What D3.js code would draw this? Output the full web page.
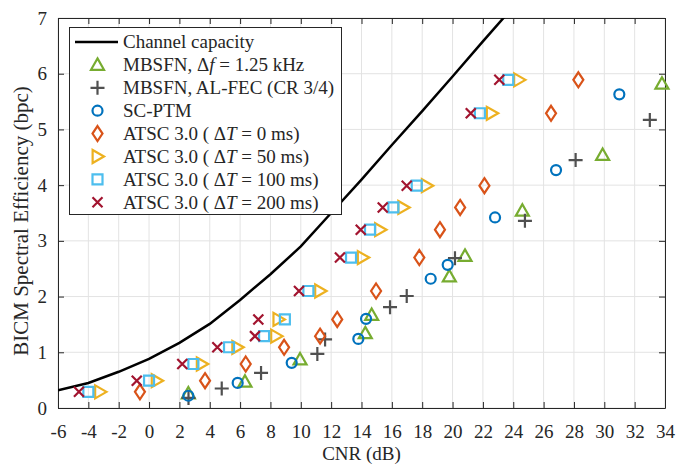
<!DOCTYPE html>
<html><head><meta charset="utf-8">
<script src="https://cdn.jsdelivr.net/npm/d3@7"></script>
<style>
body{margin:0;background:#fff;}
svg text{font-family:"Liberation Serif","Times New Roman",serif !important;fill:#262626;}
</style></head><body>
<svg id="chart" width="691" height="464"></svg>
<script>
// ---- data ----
const xTickValues = d3.range(-6, 35, 2);
const yTickValues = [0,1,2,3,4,5,6,7];

const capacityX = [-6,-4,-2,0,2,4,6,8,10,12,14,16,18,20,22,24];
const capacityY = [0.32,0.45,0.65,0.88,1.17,1.51,1.94,2.40,2.90,3.50,4.10,4.72,5.33,5.95,6.58,7.20];

const mbsfnX = [2.59,6.32,9.95,14.25,14.67,19.79,20.82,24.6,29.89,33.8];
const mbsfnY = [0.26,0.47,0.87,1.34,1.67,2.36,2.73,3.54,4.54,5.82];

const alfecX = [2.6,4.79,7.38,11.09,11.6,15.88,16.98,20.16,24.77,28.11,33.0];
const alfecY = [0.18,0.35,0.63,0.97,1.23,1.81,2.01,2.69,3.36,4.45,5.17];

const scptmX = [2.59,5.84,9.4,13.79,14.3,18.56,19.68,22.8,26.82,30.99];
const scptmY = [0.22,0.45,0.81,1.24,1.6,2.32,2.57,3.42,4.27,5.63];

const atsc0X = [-0.6,3.69,6.37,8.9,11.27,12.4,14.96,17.81,19.17,20.5,22.1,26.49,28.29];
const atsc0Y = [0.29,0.49,0.79,1.09,1.29,1.59,2.1,2.7,3.2,3.6,3.99,5.29,5.89];

const atsc50X = [-3.23,0.5,3.47,5.81,8.37,8.52,11.27,14.08,15.22,16.75,18.3,22.58,24.38];
const atsc50Y = [0.29,0.49,0.79,1.09,1.29,1.59,2.1,2.7,3.2,3.6,3.99,5.29,5.89];

const atsc100X = [-4.0,0.0,2.92,5.27,7.58,8.95,10.5,13.31,14.56,16.1,17.64,21.8,23.67];
const atsc100Y = [0.29,0.49,0.79,1.09,1.29,1.59,2.1,2.7,3.2,3.6,3.99,5.29,5.89];

const atsc200X = [-4.62,-0.81,2.19,4.5,6.98,7.2,9.88,12.58,13.95,15.4,16.98,21.2,23.08];
const atsc200Y = [0.29,0.49,0.79,1.09,1.29,1.59,2.1,2.7,3.2,3.6,3.99,5.29,5.89];

const legendLabels = ["Channel capacity","MBSFN, \u0394f = 1.25 kHz","MBSFN, AL-FEC (CR 3/4)","SC-PTM",
  "ATSC 3.0 ( \u0394T = 0 ms)","ATSC 3.0 ( \u0394T = 50 ms)","ATSC 3.0 ( \u0394T = 100 ms)","ATSC 3.0 ( \u0394T = 200 ms)"];

// ---- layout ----
const svg = d3.select("#chart");
const L = 58, R = 665, T = 18, B = 408;
const x = d3.scaleLinear().domain([-6,34]).range([L,R]);
const y = d3.scaleLinear().domain([0,7]).range([B,T]);

// grid
const g = svg.append("g");
g.selectAll(".gx").data(xTickValues).join("line")
  .attr("x1",d=>x(d)).attr("x2",d=>x(d)).attr("y1",T).attr("y2",B)
  .attr("stroke","#e3e3e3").attr("stroke-width",1);
g.selectAll(".gy").data(yTickValues).join("line")
  .attr("y1",d=>y(d)).attr("y2",d=>y(d)).attr("x1",L).attr("x2",R)
  .attr("stroke","#e3e3e3").attr("stroke-width",1);

// axes
const fs = 19;
const fmt = d => String(d);
const ax = svg.append("g").attr("transform",`translate(0,${B})`)
  .call(d3.axisBottom(x).tickValues(xTickValues).tickFormat(fmt).tickSizeInner(-6).tickSizeOuter(0).tickPadding(17));
const ay = svg.append("g").attr("transform",`translate(${L},0)`)
  .call(d3.axisLeft(y).tickValues(yTickValues).tickFormat(fmt).tickSizeInner(-6).tickSizeOuter(0).tickPadding(11));
const axT = svg.append("g").attr("transform",`translate(0,${T})`)
  .call(d3.axisTop(x).tickValues(xTickValues).tickSizeInner(-6).tickSizeOuter(0).tickFormat(""));
const ayR = svg.append("g").attr("transform",`translate(${R},0)`)
  .call(d3.axisRight(y).tickValues(yTickValues).tickSizeInner(-6).tickSizeOuter(0).tickFormat(""));
[ax,ay,axT,ayR].forEach(a=>{
  a.attr("font-family",null).attr("font-size",null);
  a.select(".domain").attr("stroke","#262626").attr("stroke-width",1);
  a.selectAll(".tick line").attr("stroke","#262626").attr("stroke-width",1);
  a.selectAll("text").attr("font-size",fs).attr("fill","#262626");
});

// axis labels
svg.append("text").attr("x",(L+R)/2).attr("y",460).attr("text-anchor","middle")
  .attr("font-size",19).text("CNR (dB)");
svg.append("text").attr("transform",`translate(28,${(T+B)/2+8}) rotate(-90)`).attr("text-anchor","middle")
  .attr("font-size",21).text("BICM Spectral Efficiency (bpc)");

// clip
svg.append("clipPath").attr("id","clip").append("rect").attr("x",L).attr("y",T).attr("width",R-L).attr("height",B-T);

// capacity line
const capData = capacityX.map((v,i)=>[v,capacityY[i]]);
svg.append("path").attr("clip-path","url(#clip)").datum(capData)
  .attr("d",d3.line().x(d=>x(d[0])).y(d=>y(d[1])))
  .attr("fill","none").attr("stroke","#000").attr("stroke-width",2.5);

// marker shapes
function shape(type, cx, cy){
  switch(type){
    case "tri": { const s=6.5; return `M${cx},${cy-s}L${cx+s*1.0},${cy+s*0.75}L${cx-s*1.0},${cy+s*0.75}Z`; }
    case "triR": { const s=6.5; return `M${cx+s},${cy}L${cx-s*0.75},${cy-s}L${cx-s*0.75},${cy+s}Z`; }
    case "plus": { const s=7; return `M${cx-s},${cy}L${cx+s},${cy}M${cx},${cy-s}L${cx},${cy+s}`; }
    case "dia": { const w=5,h=7.5; return `M${cx},${cy-h}L${cx+w},${cy}L${cx},${cy+h}L${cx-w},${cy}Z`; }
    case "sq": { const s=5; return `M${cx-s},${cy-s}H${cx+s}V${cy+s}H${cx-s}Z`; }
    case "x": { const s=5; return `M${cx-s},${cy-s}L${cx+s},${cy+s}M${cx+s},${cy-s}L${cx-s},${cy+s}`; }
  }
}
const series = [
  {xs:mbsfnX, ys:mbsfnY, type:"tri", color:"#77AC30"},
  {xs:alfecX, ys:alfecY, type:"plus", color:"#505050"},
  {xs:scptmX, ys:scptmY, type:"circle", color:"#0072BD"},
  {xs:atsc0X, ys:atsc0Y, type:"dia", color:"#D95319"},
  {xs:atsc50X, ys:atsc50Y, type:"triR", color:"#EDB120"},
  {xs:atsc100X, ys:atsc100Y, type:"sq", color:"#4DBEEE"},
  {xs:atsc200X, ys:atsc200Y, type:"x", color:"#A2142F"}
];
function drawMarker(sel, type, color, cx, cy){
  if(type==="circle"){
    sel.append("circle").attr("cx",cx).attr("cy",cy).attr("r",5).attr("fill","none").attr("stroke",color).attr("stroke-width",2.2);
  } else {
    sel.append("path").attr("d",shape(type,cx,cy)).attr("fill","none").attr("stroke",color).attr("stroke-width",2.2);
  }
}
series.forEach(s=>{
  const gg = svg.append("g");
  s.xs.forEach((v,i)=>drawMarker(gg, s.type, s.color, x(v), y(s.ys[i])));
});

// legend
const lg = svg.append("g");
lg.append("rect").attr("x",69.5).attr("y",27.5).attr("width",272).attr("height",187)
  .attr("fill","#fff").attr("stroke","#262626").attr("stroke-width",1);
const rowY = i => 42 + i*22.9;
lg.append("line").attr("x1",75).attr("x2",118).attr("y1",rowY(0)).attr("y2",rowY(0)).attr("stroke","#000").attr("stroke-width",2.5);
series.forEach((s,i)=>drawMarker(lg, s.type, s.color, 97.5, rowY(i+1)));
legendLabels.forEach((t,i)=>{
  const tx = lg.append("text").attr("x",123).attr("y",rowY(i)).attr("dy","0.33em").attr("font-size",19);
  const m = t.match(/^(.*)\u0394([fT])(.*)$/);
  if(m){
    tx.append("tspan").text(m[1]+"\u0394");
    tx.append("tspan").attr("font-style","italic").text(m[2]);
    tx.append("tspan").text(m[3]);
  } else tx.text(t);
});
</script>
</body></html>
